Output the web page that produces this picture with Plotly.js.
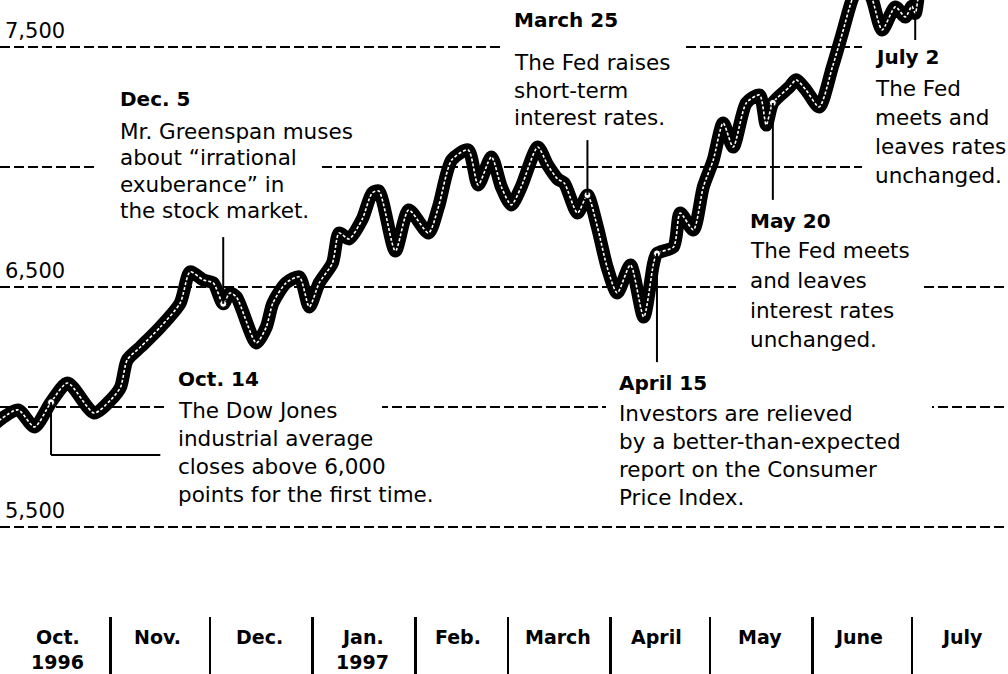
<!DOCTYPE html>
<html><head><meta charset="utf-8">
<script src="https://cdn.plot.ly/plotly-3.0.1.min.js"></script>
<style>html,body{margin:0;padding:0;background:#fff}#chart{width:1008px;height:674px}</style>
</head><body><div id="chart"></div>
<script>
// ---- data (Dow Jones industrial average) ----
const dates = [
 "1996-09-27","1996-10-04","1996-10-09","1996-10-14","1996-10-19","1996-10-27","1996-11-01","1996-11-04",
 "1996-11-06","1996-11-10","1996-11-16","1996-11-22","1996-11-25","1996-11-29","1996-12-02","1996-12-05",
 "1996-12-07","1996-12-09","1996-12-15","1996-12-18","1996-12-20","1996-12-24","1996-12-28","1996-12-31",
 "1997-01-03","1997-01-07","1997-01-09","1997-01-12","1997-01-16","1997-01-19","1997-01-21","1997-01-26",
 "1997-01-30","1997-02-05","1997-02-08","1997-02-12","1997-02-17","1997-02-20","1997-02-24","1997-02-27",
 "1997-03-02","1997-03-05","1997-03-10","1997-03-13","1997-03-16","1997-03-18","1997-03-22","1997-03-25",
 "1997-03-28","1997-03-31","1997-04-03","1997-04-07","1997-04-11","1997-04-14","1997-04-15","1997-04-20",
 "1997-04-22","1997-04-26","1997-04-29","1997-05-02","1997-05-05","1997-05-08","1997-05-12","1997-05-16",
 "1997-05-18","1997-05-20","1997-05-25","1997-05-27","1997-05-30","1997-06-03","1997-06-07","1997-06-10",
 "1997-06-13","1997-06-16","1997-06-19","1997-06-22","1997-06-26","1997-06-29","1997-07-01","1997-07-02",
 "1997-07-04","1997-07-08","1997-07-15","1997-07-31"
];
const dowClose = [
 5930,5988,5917,6020,6100,5975,6029,6083,
 6196,6250,6333,6433,6563,6529,6517,6430,
 6475,6458,6267,6333,6433,6517,6542,6417,
 6517,6600,6725,6700,6783,6892,6900,6650,
 6821,6725,6833,7029,7071,6925,7042,6917,
 6842,6917,7083,7008,6950,6933,6808,6883,
 6750,6580,6475,6592,6375,6600,6640,6667,
 6808,6738,6917,7029,7183,7083,7267,7300,
 7175,7267,7333,7363,7321,7250,7417,7558,
 7700,7780,7700,7571,7667,7625,7670,7640,
 7800,7900,7980,8050
];
const eventDates = ["1996-10-14","1996-12-05","1997-03-25","1997-04-15","1997-05-20","1997-07-02"];
const eventTitles = ["Oct. 14","Dec. 5","March 25","April 15","May 20","July 2"];
const eventTexts = [
 ["The Dow Jones","industrial average","closes above 6,000","points for the first time."],
 ["Mr. Greenspan muses","about \u201cirrational","exuberance\u201d in","the stock market."],
 ["The Fed raises","short-term","interest rates."],
 ["Investors are relieved","by a better-than-expected","report on the Consumer","Price Index."],
 ["The Fed meets","and leaves","interest rates","unchanged."],
 ["The Fed","meets and","leaves rates","unchanged."]
];
const gridVals = [5500,6000,6500,7000,7500];
const gridLabels = ["5,500","","6,500","","7,500"];
const monthStarts = ["1996-11-01","1996-12-01","1997-01-01","1997-02-01","1997-03-01","1997-04-01","1997-05-01","1997-06-01","1997-07-01"];
const monthMid = ["1996-10-16","1996-11-15","1996-12-16","1997-01-16","1997-02-14","1997-03-16","1997-04-15","1997-05-16","1997-06-15","1997-07-16"];
const monthLabels = ["Oct.","Nov.","Dec.","Jan.","Feb.","March","April","May","June","July"];
const yearLabels = ["1996","","","1997","","","","","",""];

// ---- layout helpers ----
const W = 1008, H = 674;
const px = v => v / W;
const py = v => 1 - v / H;
const FONT = "DejaVu Sans, Arial, sans-serif";
const valueAt = d => dowClose[dates.indexOf(d)];

// note placement (layout only): left x, title y, first line y, line step, white box, leader line
const notePlace = [
 {x:176, ty:379, y0:410, dy:28,   box:[168,364,382,512], lead:{to:5800, elbow:"1996-11-16"}, marker:true},
 {x:118, ty:99,  y0:131, dy:26.5, box:[98,84,322,225],   lead:{to:6708}, marker:true},
 {x:512, ty:20,  y0:63,  dy:27,   box:[503,0,686,132],   lead:{to:7112}, marker:true},
 {x:617, ty:383, y0:413, dy:28,   box:[606,368,932,514], lead:{to:6187}, marker:true},
 {x:748, ty:221, y0:251, dy:29.5, box:[736,205,922,356], lead:{to:6863}, marker:true},
 {x:873, ty:57,  y0:88,  dy:29,   box:[862,41,1008,192], lead:{to:7529}, marker:false}
];

const annotations = [];
const boxes = [];
const leaders = [];

// y labels sitting above their gridlines
gridVals.forEach((v,i) => {
  if (!gridLabels[i]) return;
  annotations.push({xref:'paper', x:px(3), xanchor:'left', yref:'y', y:v, yanchor:'bottom', yshift:2,
    text:gridLabels[i], showarrow:false, font:{family:FONT, size:21, color:'#000'}});
});

// month labels
monthLabels.forEach((m,i) => {
  annotations.push({xref:'x', x:monthMid[i], yref:'paper', y:py(637), xanchor:'center', yanchor:'middle',
    text:'<b>'+m+'</b>', showarrow:false, font:{family:FONT, size:19, color:'#000'}});
  if (yearLabels[i]) annotations.push({xref:'x', x:monthMid[i], yref:'paper', y:py(662), xanchor:'center', yanchor:'middle',
    text:'<b>'+yearLabels[i]+'</b>', showarrow:false, font:{family:FONT, size:19, color:'#000'}});
});

// notes
eventDates.forEach((d,i) => {
  const p = notePlace[i];
  boxes.push({type:'rect', xref:'paper', yref:'paper', x0:px(p.box[0]), x1:px(p.box[2]), y0:py(p.box[3]), y1:py(p.box[1]),
    fillcolor:'#fff', line:{width:0}, layer:'above'});
  annotations.push({xref:'paper', yref:'paper', x:px(p.x), y:py(p.ty), xanchor:'left', yanchor:'middle',
    text:'<b>'+eventTitles[i]+'</b>', showarrow:false, font:{family:FONT, size:20, color:'#000'}});
  eventTexts[i].forEach((t,j) => {
    annotations.push({xref:'paper', yref:'paper', x:px(p.x), y:py(p.y0 + j*p.dy), xanchor:'left', yanchor:'middle',
      text:t, showarrow:false, font:{family:FONT, size:21.5, color:'#000'}});
  });
  const v = valueAt(d);
  leaders.push({type:'line', xref:'x', yref:'y', x0:d, x1:d, y0:v, y1:p.lead.to, line:{color:'#000', width:2}, layer:'above'});
  if (p.lead.elbow) leaders.push({type:'line', xref:'x', yref:'y', x0:d, x1:p.lead.elbow, y0:p.lead.to, y1:p.lead.to,
    line:{color:'#000', width:2}, layer:'above'});
});

const mk = eventDates.filter((d,i) => notePlace[i].marker);

const traces = [
  {x:dates, y:dowClose, mode:'lines', line:{color:'#000', width:13, shape:'spline', smoothing:0.7}, hoverinfo:'skip'},
  {x:dates, y:dowClose, mode:'lines', line:{color:'#fff', width:1.6, shape:'spline', smoothing:0.7, dash:'3px,2px'}, hoverinfo:'skip'},
  {x:mk, y:mk.map(valueAt), mode:'markers', marker:{color:'#fff', size:7, line:{color:'#000', width:1}}, hoverinfo:'skip'}
];

const layout = {
  width:W, height:H, showlegend:false,
  margin:{l:0, r:0, t:0, b:0, pad:0},
  paper_bgcolor:'#fff', plot_bgcolor:'#fff',
  xaxis:{type:'date', range:["1996-09-28 14:00:00","1997-07-30 00:30:00"], showgrid:false, zeroline:false, showline:false,
    tickmode:'array', tickvals:monthStarts, ticks:'inside', ticklen:57, tickwidth:2.5, tickcolor:'#000',
    showticklabels:false, fixedrange:true},
  yaxis:{range:[4887.5, 7695.8], tickmode:'array', tickvals:gridVals, showticklabels:false, ticks:'',
    showgrid:true, gridcolor:'#000', gridwidth:2, griddash:'10px,4px', zeroline:false, showline:false, fixedrange:true},
  annotations:annotations, shapes:boxes.concat(leaders)
};

Plotly.newPlot('chart', traces, layout, {staticPlot:true, displayModeBar:false});
</script>
</body></html>
